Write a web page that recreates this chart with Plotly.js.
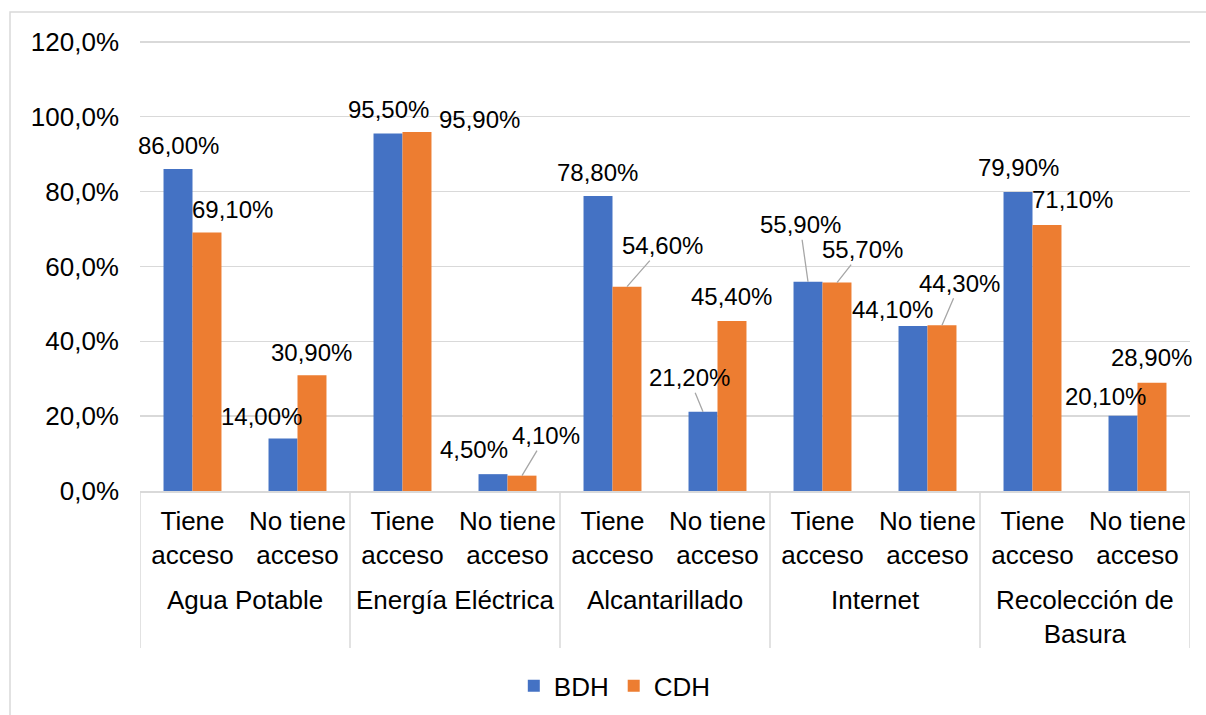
<!DOCTYPE html>
<html>
<head>
<meta charset="utf-8">
<script src="https://cdn.plot.ly/plotly-3.0.1.min.js"></script>
<style>
  html, body { margin: 0; padding: 0; background: #ffffff; }
  #chart { width: 1206px; height: 715px; }
</style>
</head>
<body>
<div id="chart"></div>
<script>
// ---- data ----
var groups = ["Agua Potable", "Energía Eléctrica", "Alcantarillado", "Internet", "Recolección de<br>Basura"];
var subcats = ["Tiene<br>acceso", "No tiene<br>acceso"];
var seriesNames = ["BDH", "CDH"];
var bdh = [86.0, 14.0, 95.5, 4.5, 78.8, 21.2, 55.9, 44.1, 79.9, 20.1];
var cdh = [69.1, 30.9, 95.9, 4.1, 54.6, 45.4, 55.7, 44.3, 71.1, 28.9];
var yTicks = [0, 20, 40, 60, 80, 100, 120];

// ---- label placement (pixel offsets of the label centre from the bar top) ----
var bdhOff = [[0,-24],[-22,-22],[0,-24],[-19,-25],[-1,-24],[-14,-34],[-8,-57],[-21,-16],[0,-24],[-18,-19]];
var cdhOff = [[26,-23],[0,-23],[63,-13],[24,-40],[36,-41],[0,-25],[26,-33],[18,-42],[26,-25],[0,-25]];
var bdhLeader = [0,0,0,0,0,1,1,0,0,0];
var cdhLeader = [0,0,0,1,1,0,1,1,0,0];

var BLUE = "#4472C4", ORANGE = "#ED7D31", GRID = "#d9d9d9", TXT = "#000000";
var FONT = "'Liberation Sans', Arial, Helvetica, sans-serif";
var bargap = 0.448;

// x positions: one per sub-category
var xs = [], ticktext = [];
for (var g = 0; g < groups.length; g++) {
  for (var s = 0; s < subcats.length; s++) {
    xs.push(g * subcats.length + s);
    ticktext.push(subcats[s]);
  }
}

function fmt(v, d) { return v.toFixed(d).replace(".", ",") + "%"; }
var yTickText = yTicks.map(function (v) { return fmt(v, 1); });

var traces = [
  { type: "bar", name: seriesNames[0], x: xs, y: bdh, marker: { color: BLUE }, hoverinfo: "none" },
  { type: "bar", name: seriesNames[1], x: xs, y: cdh, marker: { color: ORANGE }, hoverinfo: "none" }
];

var halfw = (1 - bargap) / 4;
var annotations = [];
function addLabels(vals, offs, leader, shift) {
  for (var i = 0; i < vals.length; i++) {
    annotations.push({
      x: xs[i] + shift, y: vals[i], xref: "x", yref: "y",
      text: fmt(vals[i], 2),
      showarrow: true, arrowhead: 0, arrowwidth: 1.3,
      arrowcolor: leader[i] ? "#a6a6a6" : "rgba(0,0,0,0)",
      standoff: 0, startstandoff: 0,
      ax: offs[i][0], ay: offs[i][1],
      font: { family: FONT, size: 24, color: TXT },
      xanchor: "center", yanchor: "middle"
    });
  }
}
addLabels(bdh, bdhOff, bdhLeader, -halfw);
addLabels(cdh, cdhOff, cdhLeader, halfw);

// group labels
for (var g = 0; g < groups.length; g++) {
  annotations.push({
    x: g * subcats.length + (subcats.length - 1) / 2, xref: "x",
    y: -0.203, yref: "paper", yanchor: "top", xanchor: "center",
    text: groups[g], showarrow: false,
    font: { family: FONT, size: 26, color: TXT }
  });
}

var shapes = [];
// group dividers
for (var g = 0; g <= groups.length; g++) {
  var xv = g * subcats.length - 0.5;
  shapes.push({ type: "line", xref: "x", yref: "paper", x0: xv, x1: xv, y0: 0, y1: -0.348,
    line: { color: GRID, width: 1.5 } });
}
// outer chart border
shapes.push({ type: "rect", xref: "paper", yref: "paper",
  x0: -0.1238, x1: 1.03, y0: -0.55, y1: 1.0621,
  line: { color: GRID, width: 1.5 }, fillcolor: "rgba(0,0,0,0)", layer: "below" });

var layout = {
  width: 1206, height: 715,
  margin: { l: 140, r: 16, t: 40, b: 224, autoexpand: false },
  paper_bgcolor: "#ffffff", plot_bgcolor: "#ffffff",
  barmode: "group", bargap: bargap, bargroupgap: 0,
  font: { family: FONT, size: 26, color: TXT },
  showlegend: true,
  legend: { orientation: "h", x: 0.356, xanchor: "left", y: -0.432, yanchor: "middle",
    font: { family: FONT, size: 26, color: TXT }, itemwidth: 30, tracegroupgap: 0 },
  xaxis: {
    type: "linear", range: [-0.5, 9.5], tickmode: "array", tickvals: xs, ticktext: ticktext,
    showgrid: false, zeroline: false, showline: true, linecolor: GRID, linewidth: 1.5,
    ticks: "", ticklabelstandoff: 6, tickfont: { family: FONT, size: 26, color: TXT }, fixedrange: true
  },
  yaxis: {
    range: [0, 120.5], tickmode: "array", tickvals: yTicks, ticktext: yTickText,
    showgrid: true, gridcolor: GRID, gridwidth: 1.5, zeroline: false, showline: false,
    ticks: "", ticklabelstandoff: 20, tickfont: { family: FONT, size: 26, color: TXT }, fixedrange: true
  },
  annotations: annotations,
  shapes: shapes
};

Plotly.newPlot("chart", traces, layout, { displayModeBar: false, staticPlot: true });
</script>
</body>
</html>
